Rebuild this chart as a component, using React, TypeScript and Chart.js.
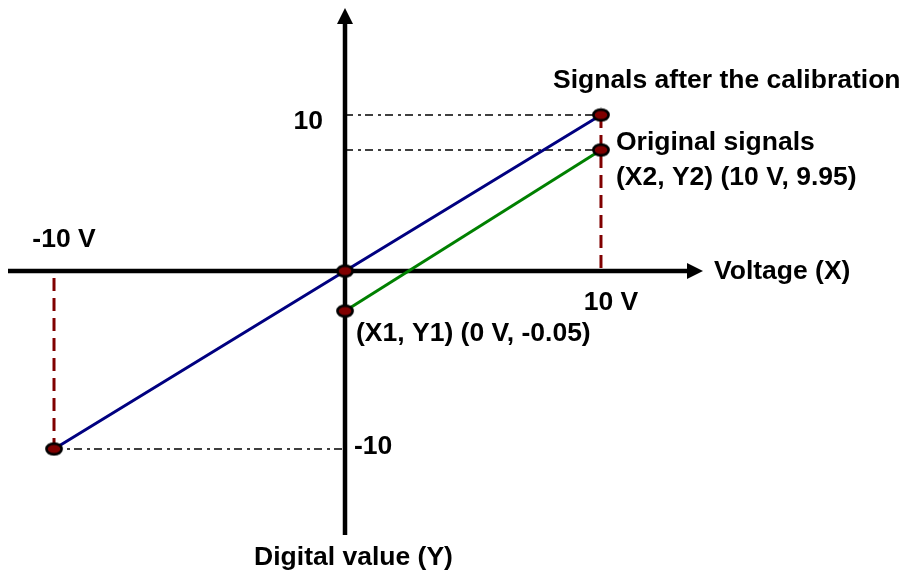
import React, { useEffect, useRef } from 'react';
import { Chart, registerables, LinearScale } from 'chart.js';

Chart.register(...registerables);

// ---------------- data ----------------
const calibratedX = [-10, 0, 10];
const calibratedY = [-10, 0, 10];
const originalX = [0, 10];
const originalY = [-0.05, 9.95];
const seriesNames = ['Signals after the calibration', 'Original signals'];
const xTickValues = [-10, 10];
const xTickLabels = ['-10 V', '10 V'];
const yTickValues = [10, -10];
const yTickLabels = ['10', '-10'];
const pointNotes = ['(X1, Y1) (0 V, -0.05)', '(X2, Y2) (10 V, 9.95)'];
const axisTitles = ['Voltage (X)', 'Digital value (Y)'];
const xRange = [-11.6, 14];
const yRange = [-14.8, 17];

// The drawing is a schematic (not to scale): each axis is split into
// segments that get their own share of the axis length.
const scaleStops: Record<string, { values: number[]; fractions: number[] }> = {
  x: {
    values: [xRange[0], calibratedX[0], calibratedX[1], calibratedX[2], xRange[1]],
    fractions: [0, 0.0662, 0.4849, 0.8532, 1],
  },
  y: {
    values: [yRange[0], calibratedY[0], originalY[0], calibratedY[1], originalY[1], calibratedY[2], yRange[1]],
    fractions: [0, 0.1632, 0.425, 0.5009, 0.7306, 0.797, 1],
  },
};

function interp(v: number, from: number[], to: number[]) {
  const n = from.length;
  let i = 0;
  while (i < n - 2 && v > from[i + 1]) i++;
  const t = (v - from[i]) / (from[i + 1] - from[i]);
  return to[i] + t * (to[i + 1] - to[i]);
}

class SchematicScale extends LinearScale {
  static id = 'schematic';
  static defaults = LinearScale.defaults;
  getPixelForValue(value: number) {
    if (value === null || value === undefined || Number.isNaN(value)) return NaN;
    const s = scaleStops[(this as any).id];
    return this.getPixelForDecimal(interp(value, s.values, s.fractions));
  }
  getValueForPixel(pixel: number) {
    const s = scaleStops[(this as any).id];
    return interp(this.getDecimalForPixel(pixel), s.fractions, s.values);
  }
}
Chart.register(SchematicScale as any);

const FONT = 'bold 26.5px "Liberation Sans", Arial, sans-serif';
const NAVY = '#000080';
const GREEN = '#008000';
const DARKRED = '#800000';

const axesPlugin = {
  id: 'schematicAxes',
  beforeDatasetsDraw(chart: any) {
    const ctx = chart.ctx;
    const xs = chart.scales.x;
    const ys = chart.scales.y;
    const x0 = xs.getPixelForValue(0);
    const y0 = ys.getPixelForValue(0);
    const head = 16;
    ctx.save();
    ctx.strokeStyle = '#000';
    ctx.fillStyle = '#000';
    ctx.lineWidth = 4.5;
    ctx.beginPath();
    ctx.moveTo(xs.left, y0);
    ctx.lineTo(xs.right - head + 2, y0);
    ctx.moveTo(x0, ys.bottom);
    ctx.lineTo(x0, ys.top + head - 2);
    ctx.stroke();
    ctx.beginPath();
    ctx.moveTo(xs.right, y0);
    ctx.lineTo(xs.right - head, y0 - 8);
    ctx.lineTo(xs.right - head, y0 + 8);
    ctx.closePath();
    ctx.fill();
    ctx.beginPath();
    ctx.moveTo(x0, ys.top);
    ctx.lineTo(x0 - 8, ys.top + head);
    ctx.lineTo(x0 + 8, ys.top + head);
    ctx.closePath();
    ctx.fill();
    ctx.restore();
  },
};

const textPlugin = {
  id: 'schematicText',
  afterDatasetsDraw(chart: any) {
    const ctx = chart.ctx;
    const xs = chart.scales.x;
    const ys = chart.scales.y;
    const px = (v: number) => xs.getPixelForValue(v);
    const py = (v: number) => ys.getPixelForValue(v);
    const items: [string, number, number, CanvasTextAlign][] = [
      [xTickLabels[0], px(xTickValues[0]) + 10, py(0) - 31, 'center'],
      [xTickLabels[1], px(xTickValues[1]) + 10, py(0) + 32, 'center'],
      [yTickLabels[0], px(0) - 22, py(yTickValues[0]) + 7, 'right'],
      [yTickLabels[1], px(0) + 9, py(yTickValues[1]) - 2, 'left'],
      [axisTitles[0], xs.right + 11, py(0) + 0.5, 'left'],
      [axisTitles[1], px(0) + 8.5, ys.bottom + 23, 'center'],
      [seriesNames[0], px(calibratedX[2]) - 48, py(calibratedY[2]) - 34.5, 'left'],
      [seriesNames[1], px(originalX[1]) + 15, py(originalY[1]) - 7.5, 'left'],
      [pointNotes[1], px(originalX[1]) + 15, py(originalY[1]) + 28, 'left'],
      [pointNotes[0], px(originalX[0]) + 11, py(originalY[0]) + 23, 'left'],
    ];
    ctx.save();
    ctx.font = FONT;
    ctx.fillStyle = '#000';
    ctx.textBaseline = 'middle';
    for (const [t, x, y, a] of items) {
      ctx.textAlign = a;
      ctx.fillText(t, x, y);
    }
    ctx.restore();
  },
};

function makeMarker() {
  const c = document.createElement('canvas');
  c.width = 20;
  c.height = 15;
  const g = c.getContext('2d')!;
  g.beginPath();
  g.ellipse(10, 7.5, 7.6, 5.4, 0, 0, Math.PI * 2);
  g.fillStyle = DARKRED;
  g.fill();
  g.lineWidth = 2.6;
  g.strokeStyle = '#000';
  g.stroke();
  return c;
}

export default function App() {
  const ref = useRef<HTMLCanvasElement>(null);
  useEffect(() => {
    document.body.style.margin = '0';
    const marker = makeMarker();
    const pt = (xArr: number[], yArr: number[]) => xArr.map((x, i) => ({ x, y: yArr[i] }));
    const guide = (data: { x: number; y: number }[], color: string, width: number, dash: number[], offset = 0) => ({
      data,
      borderColor: color,
      borderWidth: width,
      borderDash: dash,
      borderDashOffset: offset,
      pointRadius: 0,
      pointHoverRadius: 0,
      tension: 0,
      fill: false,
    });
    const dashRed = [13, 7];
    const dashDot = [8, 5, 3, 4];
    const chart = new Chart(ref.current!, {
      type: 'line',
      data: {
        datasets: [
          {
            label: seriesNames[0],
            data: pt(calibratedX, calibratedY),
            borderColor: NAVY,
            borderWidth: 3,
            pointStyle: marker as any,
            pointRadius: 8,
            tension: 0,
            fill: false,
          },
          {
            label: seriesNames[1],
            data: pt(originalX, originalY),
            borderColor: GREEN,
            borderWidth: 3,
            pointStyle: marker as any,
            pointRadius: 8,
            tension: 0,
            fill: false,
          },
          guide([{ x: xTickValues[0], y: 0 }, { x: calibratedX[0], y: calibratedY[0] }], DARKRED, 3, dashRed, 13),
          guide([{ x: calibratedX[2], y: calibratedY[2] }, { x: xTickValues[1], y: 0 }], DARKRED, 3, dashRed, 0),
          guide([{ x: calibratedX[0], y: calibratedY[0] }, { x: 0, y: yTickValues[1] }], '#000', 1.5, dashDot),
          guide([{ x: 0, y: yTickValues[0] }, { x: calibratedX[2], y: calibratedY[2] }], '#000', 1.5, dashDot),
          guide([{ x: 0, y: originalY[1] }, { x: originalX[1], y: originalY[1] }], '#000', 1.5, dashDot),
        ] as any,
      },
      options: {
        responsive: false,
        animation: false,
        events: [],
        layout: { autoPadding: false, padding: { left: 8, right: 201, top: 8, bottom: 39 } },
        plugins: { legend: { display: false }, tooltip: { enabled: false } },
        scales: {
          x: { type: 'schematic' as any, min: xRange[0], max: xRange[1], display: false },
          y: { type: 'schematic' as any, min: yRange[0], max: yRange[1], display: false },
        },
      } as any,
      plugins: [axesPlugin, textPlugin],
    });
    return () => chart.destroy();
  }, []);
  return (
    <div style={{ width: 904, height: 574 }}>
      <canvas ref={ref} width={904} height={574} style={{ display: 'block' }} />
    </div>
  );
}
